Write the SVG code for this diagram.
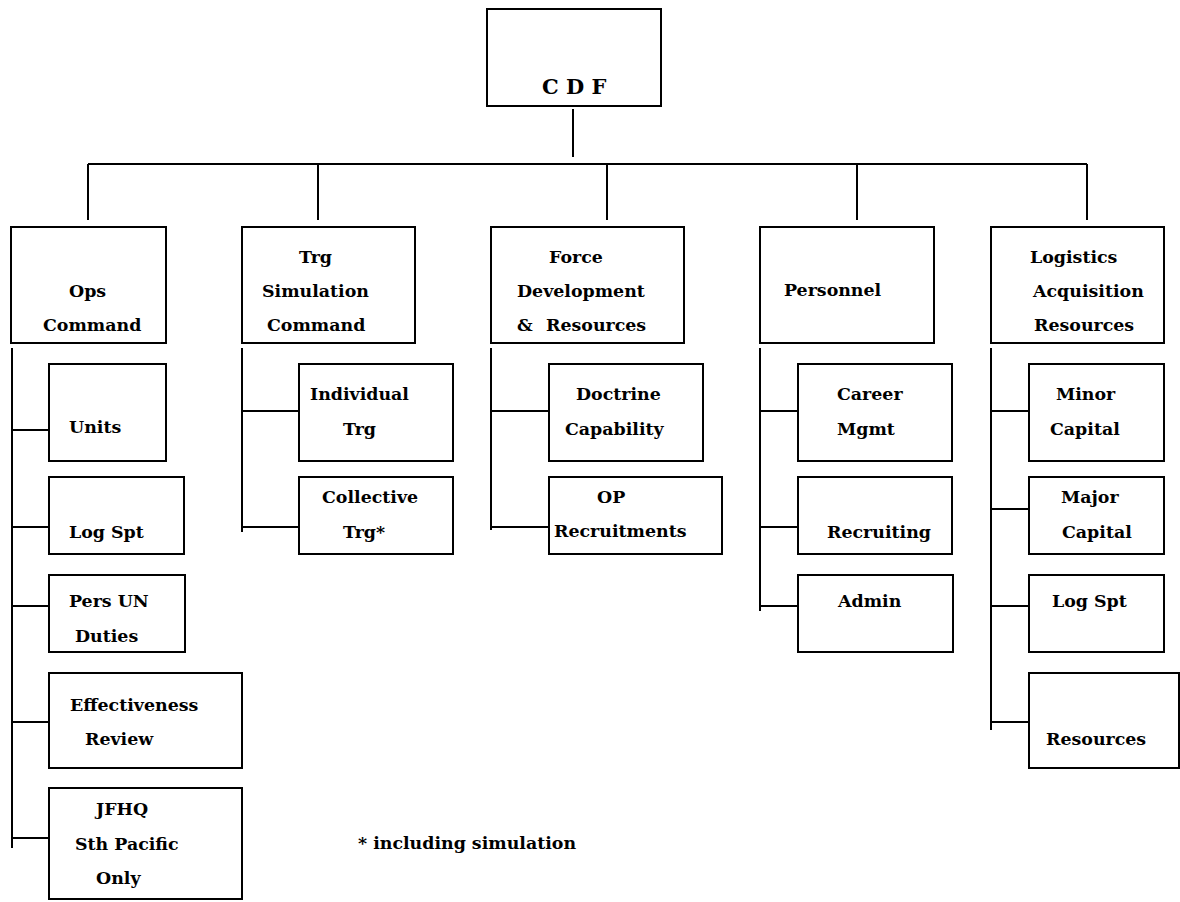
<svg xmlns="http://www.w3.org/2000/svg" width="1180" height="902" viewBox="0 0 1180 902">
<style>
.b{fill:#fff;stroke:#000;stroke-width:2}
.c{fill:none;stroke:#000;stroke-width:2}
text{font-family:"DejaVu Serif","Liberation Serif",serif;font-weight:bold;font-size:17.4px;fill:#000}
.big{font-size:21px}
</style>
<rect width="1180" height="902" fill="#fff"/>
<g id="connectors">
<path class="c" d="M573 109V157M88 164H1087M88 164V220M318 164V220M607 164V220M857 164V220M1087 164V220"/>
<path class="c" d="M12 348V848M12 430H49M12 527H49M12 606H49M12 722H49M12 838H49"/>
<path class="c" d="M242 348V532M242 411H299M242 527H299"/>
<path class="c" d="M491 348V530M491 411H549M491 527H549"/>
<path class="c" d="M760 348V611M760 411H798M760 527H798M760 606H798"/>
<path class="c" d="M991 348V730M991 411H1029M991 509H1029M991 606H1029M991 722H1029"/>
</g>
<g id="cdf"><rect class="b" x="487" y="9" width="174" height="97"/><text class="big" x="542" y="94">C D F</text></g>
<g id="ops"><rect class="b" x="11" y="227" width="155" height="116"/><text x="69" y="297">Ops</text><text x="43" y="331">Command</text></g>
<g id="trg"><rect class="b" x="242" y="227" width="173" height="116"/><text x="299" y="263">Trg</text><text x="262" y="297">Simulation</text><text x="267" y="331">Command</text></g>
<g id="force"><rect class="b" x="491" y="227" width="193" height="116"/><text x="549" y="263">Force</text><text x="517" y="297">Development</text><text x="517" y="331">&amp;</text><text x="546" y="331">Resources</text></g>
<g id="personnel"><rect class="b" x="760" y="227" width="174" height="116"/><text x="784" y="296">Personnel</text></g>
<g id="logistics"><rect class="b" x="991" y="227" width="173" height="116"/><text x="1030" y="263">Logistics</text><text x="1033" y="297">Acquisition</text><text x="1034" y="331">Resources</text></g>
<g id="units"><rect class="b" x="49" y="364" width="117" height="97"/><text x="69" y="433">Units</text></g>
<g id="logspt-ops"><rect class="b" x="49" y="477" width="135" height="77"/><text x="69" y="538">Log Spt</text></g>
<g id="persun"><rect class="b" x="49" y="575" width="136" height="77"/><text x="69" y="607">Pers UN</text><text x="75" y="642">Duties</text></g>
<g id="effectiveness"><rect class="b" x="49" y="673" width="193" height="95"/><text x="70" y="711">Effectiveness</text><text x="85" y="745">Review</text></g>
<g id="jfhq"><rect class="b" x="49" y="788" width="193" height="111"/><text x="96" y="815">JFHQ</text><text x="75" y="850">Sth Pacific</text><text x="96" y="884">Only</text></g>
<g id="individual"><rect class="b" x="299" y="364" width="154" height="97"/><text x="310" y="400">Individual</text><text x="343" y="435">Trg</text></g>
<g id="collective"><rect class="b" x="299" y="477" width="154" height="77"/><text x="322" y="503">Collective</text><text x="343" y="538">Trg*</text></g>
<g id="doctrine"><rect class="b" x="549" y="364" width="154" height="97"/><text x="576" y="400">Doctrine</text><text x="565" y="435">Capability</text></g>
<g id="op"><rect class="b" x="549" y="477" width="173" height="77"/><text x="597" y="503">OP</text><text x="554" y="537">Recruitments</text></g>
<g id="career"><rect class="b" x="798" y="364" width="154" height="97"/><text x="837" y="400">Career</text><text x="837" y="435">Mgmt</text></g>
<g id="recruiting"><rect class="b" x="798" y="477" width="154" height="77"/><text x="827" y="538">Recruiting</text></g>
<g id="admin"><rect class="b" x="798" y="575" width="155" height="77"/><text x="838" y="607">Admin</text></g>
<g id="minor"><rect class="b" x="1029" y="364" width="135" height="97"/><text x="1056" y="400">Minor</text><text x="1050" y="435">Capital</text></g>
<g id="major"><rect class="b" x="1029" y="477" width="135" height="77"/><text x="1061" y="503">Major</text><text x="1062" y="538">Capital</text></g>
<g id="logspt-log"><rect class="b" x="1029" y="575" width="135" height="77"/><text x="1052" y="607">Log Spt</text></g>
<g id="resources"><rect class="b" x="1029" y="673" width="150" height="95"/><text x="1046" y="745">Resources</text></g>
<text x="358" y="849">* including simulation</text>
</svg>
